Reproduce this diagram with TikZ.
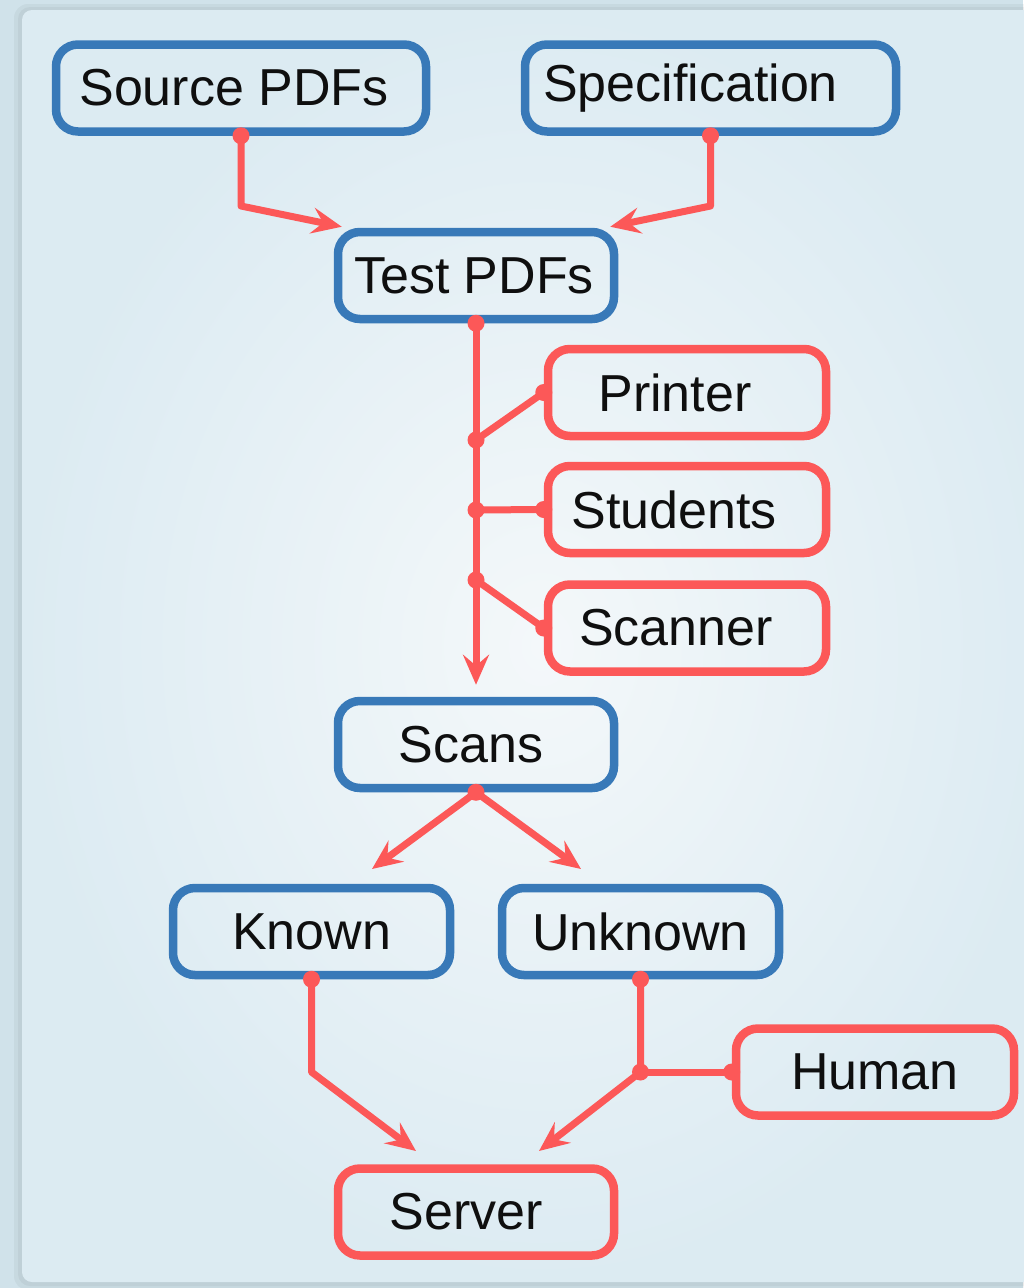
\documentclass[tikz,border=0pt]{standalone}
\usepackage{fontspec}
\setmainfont{Liberation Sans}
\usetikzlibrary{arrows.meta,calc}
\definecolor{bluebox}{RGB}{56,121,184}
\definecolor{redline}{RGB}{252,88,88}
\definecolor{outerbg}{RGB}{208,226,234}
\definecolor{panelin}{RGB}{244,248,250}
\definecolor{panelout}{RGB}{220,235,242}
\definecolor{txt}{RGB}{15,15,15}
\begin{document}
\begin{tikzpicture}[x=1pt,y=-1pt,
  box/.style={rectangle,rounded corners=22pt,line width=8.5pt,inner sep=0pt,
    minimum height=87pt,text=txt,font=\fontsize{52}{60}\selectfont,fill=none},
  bluebox/.style={box,draw=bluebox},
  redbox/.style={box,draw=redline},
  conn/.style={draw=redline,line width=7pt,line join=round},
  arr/.style={conn,-{Stealth[length=30pt,width=26pt,inset=11pt]}},
  jdot/.style={fill=redline,draw=none},
]
% background
\useasboundingbox (0,0) rectangle (1023,1288);
\fill[outerbg] (0,0) rectangle (1023,1288);
\fill[black,opacity=0.04,rounded corners=14pt] (14,4) rectangle (1060,1290);
\fill[black,opacity=0.04,rounded corners=12pt] (18,7) rectangle (1060,1286);
\shade[inner color=panelin,outer color=panelout,rounded corners=10pt] (22,10) rectangle (1060,1282);

% nodes
\node[bluebox,minimum width=370pt] (src) at (241,88) {\hspace*{-14pt}Source PDFs};
\node[bluebox,minimum width=371pt] (spec) at (710.5,88) {\hspace*{-40pt}\raisebox{2pt}{Specification}};
\node[bluebox,minimum width=276pt] (test) at (476,275.5) {\hspace*{-4pt}Test PDFs};
\node[redbox,minimum width=278pt] (printer) at (687,392.5) {\hspace*{-24pt}Printer};
\node[redbox,minimum width=278pt] (students) at (687,509.5) {\hspace*{-26pt}Students};
\node[redbox,minimum width=278pt] (scanner) at (687,628) {\hspace*{-22pt}Scanner};
\node[bluebox,minimum width=276pt] (scans) at (476,744.5) {\hspace*{-10pt}Scans};
\node[bluebox,minimum width=277pt] (known) at (311.5,931.5) {Known};
\node[bluebox,minimum width=277pt] (unknown) at (640.5,931.5) {Unknown};
\node[redbox,minimum width=278pt] (human) at (875,1072) {Human};
\node[redbox,minimum width=276pt] (server) at (476,1212) {\hspace*{-20pt}Server};

% junction coordinates
\coordinate (jsrc) at (src.south |- 0,206);
\coordinate (jspec) at (spec.south |- 0,206);
\coordinate (jprint) at (test.south |- 0,440);
\coordinate (jstud) at (test.south |- 0,510);
\coordinate (jscan) at (test.south |- 0,580);
\coordinate (tscans) at ($(scans.north)+(0,-12)$);
\coordinate (tknown) at (372,869);
\coordinate (tunknown) at (581,869);
\coordinate (jknown) at (known.south |- 0,1072);
\coordinate (junk) at (unknown.south |- human.west);
\coordinate (tserverl) at (416,1151);
\coordinate (tserverr) at (539,1151);

% connectors
\draw[arr] (src.south) -- (jsrc) -- ($(test.north west)+(8,-1)$);
\draw[arr] (spec.south) -- (jspec) -- ($(test.north east)+(-8,-1)$);
\draw[arr] (test.south) -- (tscans);
\draw[conn] (jprint) -- (printer.west);
\draw[conn] (jstud) -- (students.west);
\draw[conn] (jscan) -- (scanner.west);
\draw[arr] (scans.south) -- (tknown);
\draw[arr] (scans.south) -- (tunknown);
\draw[arr] (known.south) -- (jknown) -- (tserverl);
\draw[arr] (unknown.south) -- (junk) -- (tserverr);
\draw[conn] (human.west) -- (junk);

% dots
\foreach \p in {src.south,spec.south,test.south,jprint,jstud,jscan,printer.west,students.west,scanner.west,scans.south,known.south,unknown.south,junk,human.west}
  \fill[jdot] (\p) circle (8.5pt);
\end{tikzpicture}
\end{document}
